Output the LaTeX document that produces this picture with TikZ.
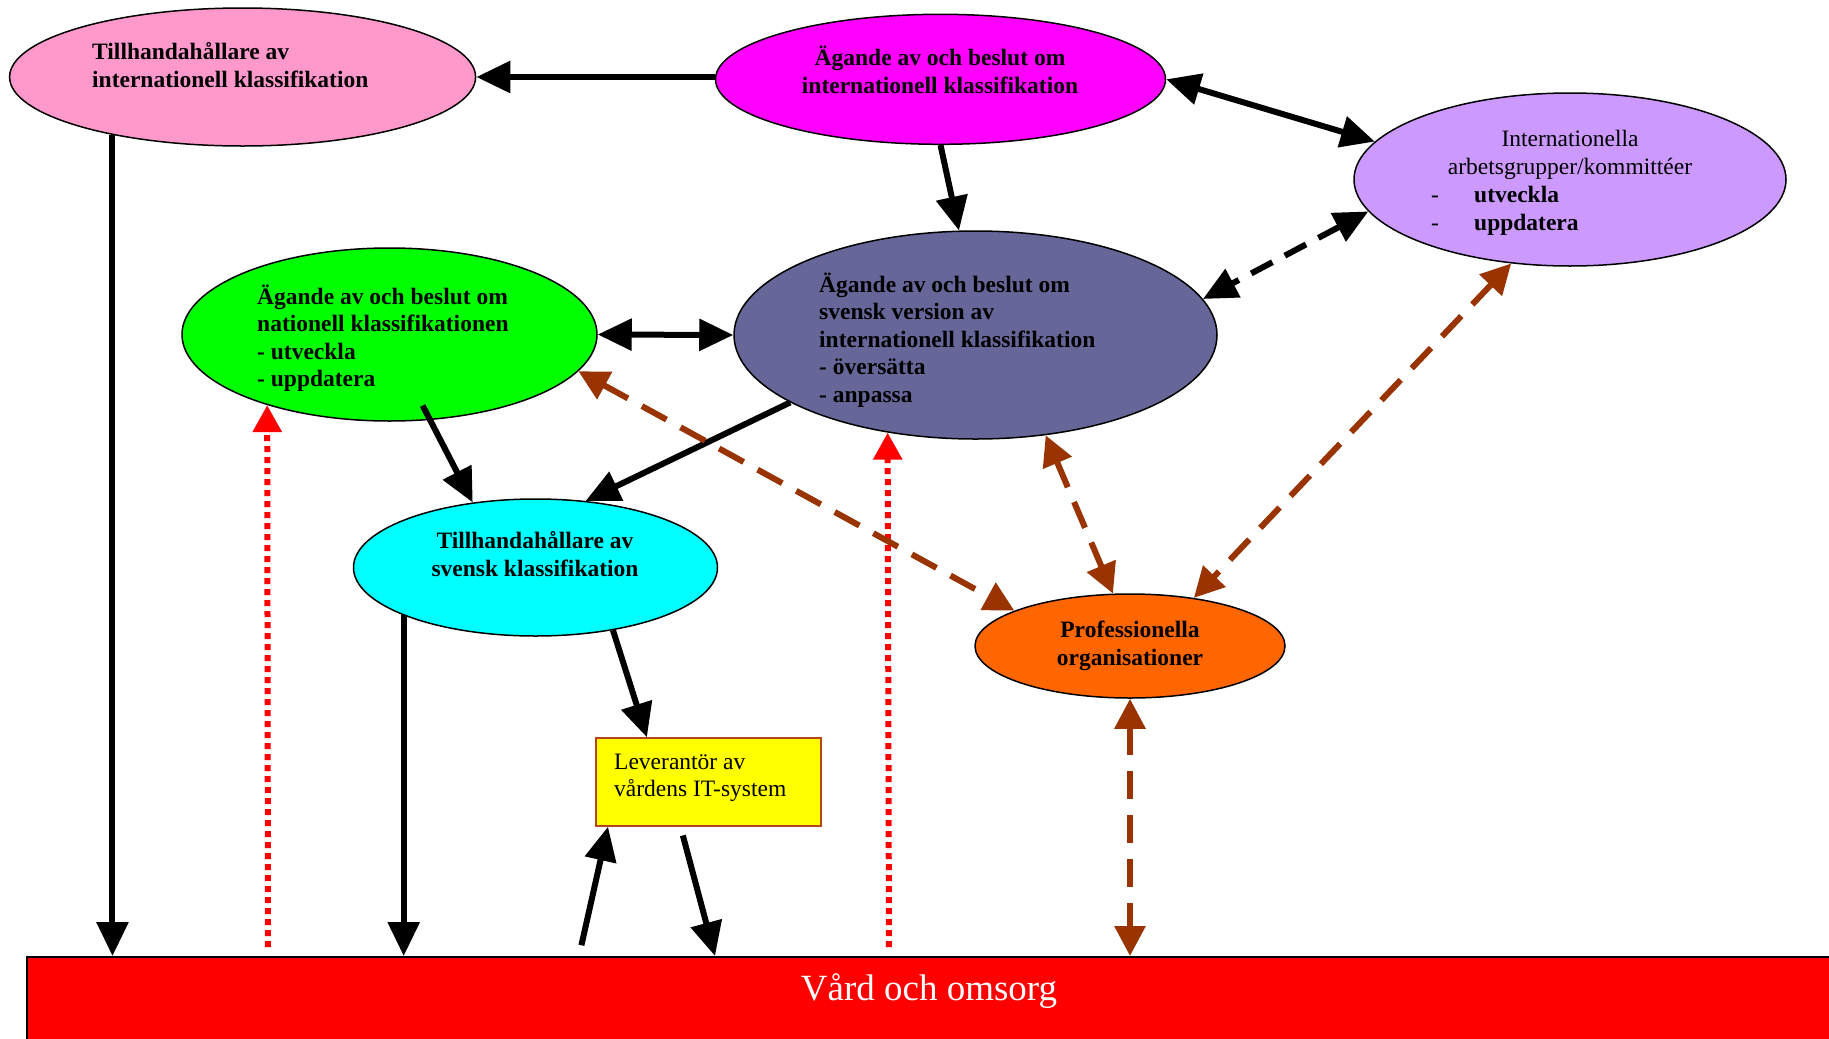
\documentclass[tikz,border=0pt]{standalone}
\usepackage{fontspec}
\setmainfont{Liberation Serif}
\usetikzlibrary{arrows.meta,shapes.geometric,calc}
\definecolor{cpink}{HTML}{FF99CC}
\definecolor{cmag}{HTML}{FF00FF}
\definecolor{clav}{HTML}{CC99FF}
\definecolor{cslate}{HTML}{666699}
\definecolor{cgreen}{HTML}{00FF00}
\definecolor{ccyan}{HTML}{00FFFF}
\definecolor{corange}{HTML}{FF6600}
\definecolor{cyellow}{HTML}{FFFF00}
\definecolor{cred}{HTML}{FF0000}
\definecolor{cbrown}{HTML}{993300}
\definecolor{cyborder}{HTML}{B5461B}
\tikzset{
  ell/.style={ellipse, draw=black, line width=1.5pt, inner sep=0pt},
  txtb/.style={font=\fontsize{23.5}{27.5}\selectfont\bfseries, inner sep=0pt},
  txtn/.style={font=\fontsize{23.5}{27.5}\selectfont, inner sep=0pt},
  btip/.tip={Triangle[length=34pt,width=31pt]},
  rtip/.tip={Triangle[length=27pt,width=28pt]},
  ntip/.tip={Triangle[length=30pt,width=30pt]},
  blk/.style={line width=6pt, draw=black, -btip},
  blkboth/.style={line width=6pt, draw=black, btip-btip},
  blkdash/.style={line width=6pt, draw=black, btip-btip, dash pattern=on 24pt off 14pt},
  reddot/.style={line width=6pt, draw=cred, -{rtip[fill=cred]}, dash pattern=on 6pt off 5pt},
  brdash/.style={line width=6pt, draw=cbrown, {ntip[fill=cbrown]}-{ntip[fill=cbrown]}, dash pattern=on 28pt off 16pt},
}
\begin{document}
\begin{tikzpicture}[x=1pt,y=-1pt]
\useasboundingbox (0,0) rectangle (1829,1039);
\fill[white] (0,0) rectangle (1829,1039);

% bottom bar
\node[draw=black, fill=cred, line width=1.5pt, minimum width=1840pt, minimum height=100pt, anchor=north west, inner sep=0pt] (care) at (26,956) {};
\node[font=\fontsize{37}{41}\selectfont, text=white, inner sep=0pt] (caretext) at (929,991) {Vård och omsorg};

% ellipses
\node[ell, fill=cpink, minimum width=466pt, minimum height=138pt] (pink) at (242.6,77) {};
\node[ell, fill=cmag, minimum width=450pt, minimum height=130pt] (mag) at (940.5,79.3) {};
\node[ell, fill=clav, minimum width=432pt, minimum height=173pt] (lav) at (1570,179.5) {};
\node[ell, fill=cslate, minimum width=483pt, minimum height=208pt] (slate) at (975.5,335) {};
\node[ell, fill=cgreen, minimum width=415pt, minimum height=173pt] (green) at (389.5,334.5) {};
\node[ell, fill=ccyan, minimum width=364pt, minimum height=137pt] (cyan) at (535.5,567.5) {};
\node[ell, fill=corange, minimum width=310pt, minimum height=104pt] (orange) at (1130,646) {};
\node[draw=cyborder, fill=cyellow, line width=1.5pt, minimum width=225pt, minimum height=88pt, inner sep=0pt] (it) at (708.5,782) {};

% texts
\node[txtb, anchor=west, align=left] (tpink) at (92,65) {Tillhandahållare av\\internationell klassifikation};
\node[txtb, align=center] (tmag) at (940,70) {Ägande av och beslut om\\internationell klassifikation};
\node[txtn, align=center] (tlav) at (1570,155) {Internationella\\arbetsgrupper/kommittéer};
\node[txtn, anchor=west, align=left] (tlav2) at (1431,211) {\makebox[43pt][l]{-}\textbf{utveckla}\\\makebox[43pt][l]{-}\textbf{uppdatera}};
\node[txtb, anchor=west, align=left] (tslate) at (819,340) {Ägande av och beslut om\\svensk version av\\internationell klassifikation\\- översätta\\- anpassa};
\node[txtb, anchor=west, align=left] (tgreen) at (257,338) {Ägande av och beslut om\\nationell klassifikationen\\- utveckla\\- uppdatera};
\node[txtb, align=center] (tcyan) at (535,554) {Tillhandahållare av\\svensk klassifikation};
\node[txtb, align=center] (torange) at (1130,646) {Professionella\\organisationer};
\node[txtn, anchor=west, align=left] (tit) at (614,778) {Leverantör av\\vårdens IT-system};

% black connectors
\draw[blk] (mag.west |- pink.east) -- (pink.east);
\draw[blkboth] (mag.east) -- (lav.169);
\draw[blk] (mag.south) -- (slate.99);
\draw[blkdash] (lav.189) -- (slate.9);
\draw[blkboth] (green.east) -- (slate.west);
\draw[blk] ($(green.center)!0.83!(green.-65)$) -- (cyan.134);
\draw[blk] (slate.200) -- (cyan.53);
\draw[blk] (pink.204) -- (pink.204 |- care.north);
\draw[blk] (cyan.200) -- (cyan.200 |- care.north);
\draw[blk] (cyan.-39) -- (it.144);
\draw[blk, shorten <=11pt] ([xshift=553pt]care.north west) -- (it.204.5);
\draw[blk, shorten <=9pt] (it.238) -- ([xshift=689pt]care.north west);

% red dotted
\draw[reddot, shorten <=9pt] ([xshift=242pt]care.north west) -- (green.210);
\draw[reddot, shorten <=9pt] ([xshift=863pt]care.north west) -- (slate.228);

% brown dashed
\draw[brdash] (orange.south) -- (orange.south |- care.north);
\draw[brdash] (green.-11) -- (orange.163);
\draw[brdash] (slate.-55) -- (orange.108);
\draw[brdash] (lav.235) -- (orange.37);
\end{tikzpicture}
\end{document}
